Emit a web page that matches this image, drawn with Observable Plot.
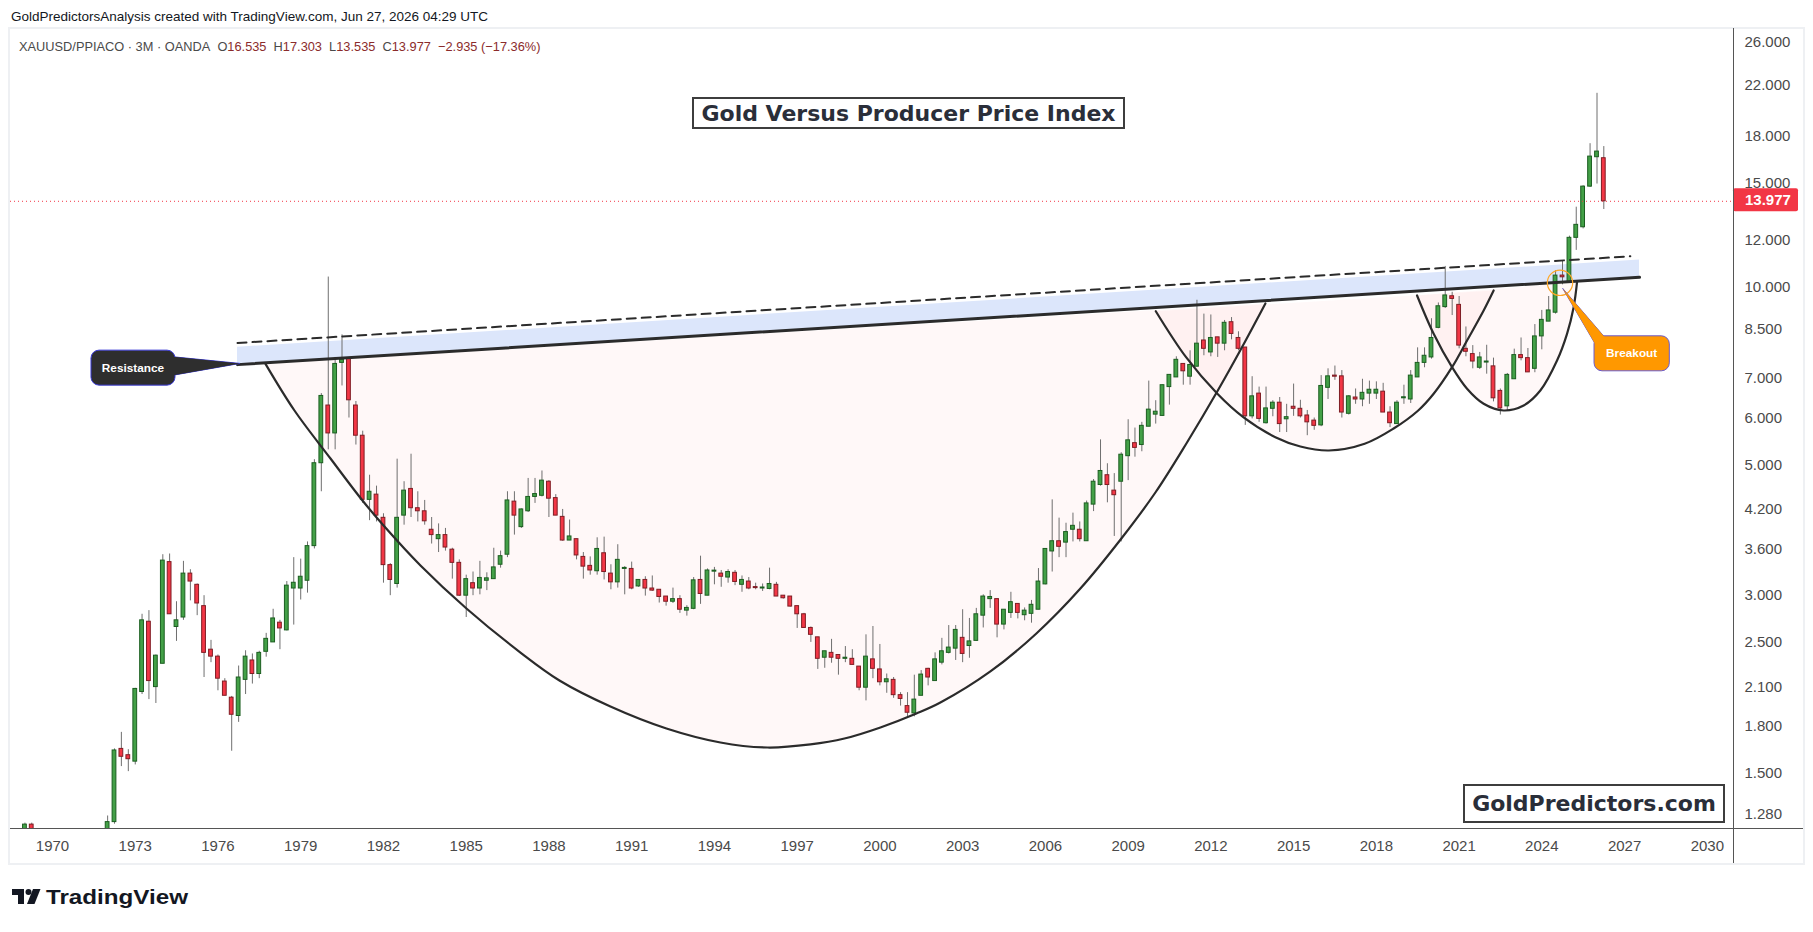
<!DOCTYPE html>
<html>
<head>
<meta charset="utf-8">
<script src="https://cdn.jsdelivr.net/npm/d3@7"></script>
<script src="https://cdn.jsdelivr.net/npm/@observablehq/plot@0.6"></script>
<style>
  html, body { margin: 0; padding: 0; background: #ffffff; overflow: hidden; }
  #page { position: relative; width: 1813px; height: 932px; overflow: hidden; font-family: "Liberation Sans", Arial, sans-serif; }
  .abs { position: absolute; }
  #frame { left: 8px; top: 27px; width: 1797px; height: 838px; border: 2px solid #eef0f3; box-sizing: border-box; }
  #chart { left: 0; top: 28px; }
  #header { left: 11px; top: 8.5px; font-size: 13.5px; color: #131722; white-space: nowrap; }
  #legend { left: 19px; top: 39px; font-size: 12.8px; color: #4a4a4a; white-space: nowrap; }
  #legend .v { color: #8b2b2b; }
  #vsep { left: 1733px; top: 28px; width: 1px; height: 835px; background: #555; }
  #hsep { left: 10px; top: 828px; width: 1793px; height: 1px; background: #555; }
  .box { box-sizing: border-box; border: 2px solid #3d3d3d; background: #fff; font-family: "DejaVu Sans", sans-serif; font-weight: bold; font-size: 22px; color: #2a2e39; display: flex; align-items: center; justify-content: center; white-space: nowrap; }
  #title { left: 692px; top: 97px; width: 433px; height: 32px; }
  #brand { left: 1463px; top: 784px; width: 262px; height: 39px; }
  #footer { left: 12px; top: 887px; }
</style>
</head>
<body>
<div id="page">
  <div id="frame" class="abs"></div>
  <div id="chart" class="abs"></div>
  <div id="vsep" class="abs"></div>
  <div id="hsep" class="abs"></div>
  <div id="header" class="abs">GoldPredictorsAnalysis created with TradingView.com, Jun 27, 2026 04:29 UTC</div>
  <div id="legend" class="abs">XAUUSD/PPIACO · 3M · OANDA&nbsp; O<span class="v">16.535</span>&nbsp; H<span class="v">17.303</span>&nbsp; L<span class="v">13.535</span>&nbsp; C<span class="v">13.977</span>&nbsp; <span class="v">−2.935 (−17.36%)</span></div>
  <div id="title" class="abs box">Gold Versus Producer Price Index</div>
  <div id="brand" class="abs box">GoldPredictors.com</div>
  <svg id="footer" class="abs" width="200" height="26">
    <path d="M0 2H12V17H6V8H0Z" fill="#131722"/>
    <circle cx="16.5" cy="5" r="3" fill="#131722"/>
    <path d="M21 2H28.5L22.5 17H15Z" fill="#131722"/>
    <text x="34" y="17" font-family="Liberation Sans, Arial, sans-serif" font-weight="bold" font-size="20" textLength="142" lengthAdjust="spacingAndGlyphs" fill="#131722">TradingView</text>
  </svg>
</div>
<script>
// ---------- DATA (quarterly candles, XAUUSD / PPIACO) ----------
// each row: [open, high, low, close]; rows run quarter by quarter from the block's first year
const q1969 = [
  [1.17,1.235,1.15,1.228],[1.228,1.235,1.14,1.16],[1.16,1.18,1.08,1.10],[1.10,1.12,1.00,1.02],
  [1.02,1.05,0.98,1.03],[1.03,1.06,1.00,1.02],[1.02,1.07,1.00,1.05],[1.05,1.07,1.00,1.04],
  [1.04,1.10,1.02,1.08],[1.08,1.14,1.06,1.12],[1.12,1.18,1.10,1.15],[1.15,1.19,1.12,1.17],
  [1.17,1.27,1.16,1.24],[1.24,1.65,1.23,1.64],[1.65,1.76,1.54,1.60],[1.61,1.645,1.51,1.585],
  [1.57,2.09,1.55,2.085],[2.06,2.79,2.04,2.725],[2.71,2.83,2.00,2.15],[2.10,2.38,1.97,2.374],
  [2.30,3.52,2.30,3.44],[3.42,3.53,2.79,2.79],[2.655,2.93,2.51,2.725],[2.755,3.43,2.725,3.27],
  [3.27,3.32,2.94,3.17],[3.13,3.14,2.775,2.91],[2.88,3.00,2.18,2.40],[2.43,2.52,2.31,2.365],
  [2.365,2.38,2.07,2.17],[2.146,2.17,2.03,2.03],[2.015,2.025,1.635,1.885],[1.876,2.28,1.83,2.18],
  [2.16,2.42,2.04,2.365],[2.33,2.39,2.125,2.21],[2.21,2.415,2.17,2.40],[2.41,2.59,2.36,2.535],
  [2.50,2.845,2.50,2.745],[2.70,2.725,2.43,2.64],[2.62,3.17,2.615,3.12],[3.085,3.48,2.675,3.155],
  [3.085,3.46,2.95,3.23],[3.18,3.70,3.03,3.64],[3.64,5.10,3.60,5.03],[5.03,6.60,4.50,6.54]
];
const q1980 = [
  [6.30,10.40,5.30,5.65],[5.65,7.60,5.30,7.41],[7.44,8.30,6.80,7.53],[7.56,7.60,6.00,6.43],
  [6.30,6.40,5.40,5.60],[5.60,5.70,4.30,4.36],[4.36,4.80,4.02,4.50],[4.45,4.60,4.00,4.10],
  [4.065,4.13,3.15,3.38],[3.38,3.40,3.00,3.19],[3.14,5.11,3.09,4.065],[4.10,4.68,3.95,4.52],
  [4.55,5.21,4.07,4.22],[4.22,4.50,4.00,4.17],[4.17,4.35,3.95,4.01],[3.88,4.07,3.67,3.80],
  [3.74,3.97,3.55,3.80],[3.80,3.90,3.57,3.62],[3.59,3.61,3.20,3.41],[3.41,3.45,2.99,3.00],
  [3.00,3.25,2.755,3.20],[3.15,3.29,3.00,3.085],[3.085,3.43,3.01,3.215],[3.18,3.28,3.06,3.21],
  [3.20,3.61,3.20,3.35],[3.385,3.57,3.34,3.50],[3.52,4.50,3.48,4.35],[4.33,4.50,3.80,4.10],
  [3.92,4.21,3.90,4.20],[4.17,4.74,4.15,4.41],[4.41,4.74,4.30,4.46],[4.43,4.88,4.41,4.70],
  [4.68,4.70,4.07,4.38],[4.39,4.45,4.10,4.10],[4.08,4.20,3.71,3.72],[3.72,4.03,3.72,3.78],
  [3.74,3.74,3.45,3.51],[3.49,3.55,3.20,3.36],[3.37,3.49,3.25,3.31],[3.30,3.76,3.25,3.60]
];
const q1990 = [
  [3.54,3.77,3.19,3.29],[3.27,3.385,3.07,3.16],[3.16,3.66,3.09,3.45],[3.33,3.36,3.01,3.34],
  [3.33,3.42,3.07,3.085],[3.11,3.19,3.10,3.19],[3.19,3.23,2.995,3.085],[3.085,3.24,3.05,3.06],
  [3.07,3.07,2.915,2.985],[2.99,2.99,2.88,2.93],[2.93,3.09,2.91,2.96],[2.96,3.00,2.80,2.84],
  [2.83,2.885,2.77,2.86],[2.85,3.22,2.84,3.185],[3.19,3.50,2.90,3.02],[3.00,3.33,3.00,3.31],
  [3.295,3.35,3.13,3.305],[3.27,3.31,3.10,3.23],[3.22,3.32,3.15,3.29],[3.28,3.31,3.12,3.165],
  [3.13,3.24,3.04,3.19],[3.17,3.22,3.07,3.085],[3.10,3.15,3.07,3.09],[3.085,3.14,3.05,3.09],
  [3.08,3.34,3.07,3.14],[3.13,3.16,2.99,2.99],[3.00,3.00,2.96,2.97],[2.99,2.99,2.87,2.875],
  [2.88,2.88,2.64,2.79],[2.79,2.80,2.645,2.645],[2.645,2.655,2.50,2.575],[2.55,2.55,2.25,2.345],
  [2.355,2.415,2.26,2.415],[2.40,2.53,2.305,2.355],[2.38,2.38,2.20,2.345],[2.345,2.46,2.31,2.355],
  [2.345,2.43,2.29,2.29],[2.275,2.275,2.07,2.095],[2.095,2.575,1.99,2.365],[2.34,2.66,2.17,2.255]
];
const q2000 = [
  [2.25,2.48,2.11,2.14],[2.14,2.21,2.05,2.165],[2.16,2.18,2.01,2.035],[2.035,2.055,1.95,2.005],
  [1.95,2.055,1.87,1.90],[1.895,2.20,1.87,2.00],[2.03,2.24,2.03,2.205],[2.255,2.26,2.11,2.18],
  [2.15,2.40,2.15,2.34],[2.31,2.54,2.29,2.415],[2.40,2.67,2.39,2.45],[2.44,2.67,2.33,2.625],
  [2.545,2.84,2.31,2.39],[2.465,2.745,2.35,2.51],[2.515,2.855,2.51,2.79],[2.775,3.01,2.645,2.99],
  [2.96,3.06,2.855,2.985],[2.96,2.96,2.545,2.68],[2.68,2.84,2.625,2.84],[2.805,3.04,2.745,2.925],
  [2.905,2.905,2.74,2.805],[2.78,2.86,2.72,2.83],[2.795,2.945,2.695,2.895],[2.84,3.335,2.84,3.17],
  [3.135,3.60,3.13,3.60],[3.565,4.36,3.29,3.71],[3.71,4.06,3.48,3.63],[3.69,3.98,3.48,3.845],
  [3.88,4.14,3.70,3.94],[3.88,4.00,3.70,3.74],[3.71,4.34,3.71,4.30],[4.28,4.72,4.165,4.68],
  [4.62,5.51,4.60,4.88],[4.80,5.02,4.31,4.62],[4.52,4.83,3.78,4.44],[4.68,5.24,3.70,5.20],
  [5.17,5.96,4.70,5.50],[5.44,5.77,5.15,5.34],[5.40,5.90,5.26,5.82],[5.80,6.93,5.80,6.20]
];
const q2010 = [
  [6.08,6.42,5.86,6.15],[6.05,6.82,6.05,6.82],[6.77,7.10,6.31,7.10],[7.03,7.62,7.03,7.53],
  [7.41,7.42,6.82,7.20],[7.05,7.80,6.82,7.38],[7.33,9.50,7.33,8.02],[8.12,9.00,7.65,7.86],
  [7.75,8.97,7.62,8.20],[8.22,8.22,7.60,8.02],[8.02,8.78,7.80,8.70],[8.72,8.88,8.14,8.33],
  [8.20,8.40,7.80,7.86],[7.90,7.90,5.83,6.04],[6.04,7.05,5.98,6.53],[6.60,6.77,5.90,5.98],
  [5.88,6.77,5.86,6.23],[6.22,6.42,6.03,6.37],[6.37,6.50,5.67,5.86],[5.97,6.33,5.67,6.02],
  [6.27,6.85,6.04,6.22],[6.22,6.43,6.00,6.04],[6.06,6.18,5.60,5.90],[5.94,6.00,5.72,5.82],
  [5.83,7.08,5.80,6.80],[6.75,7.27,6.45,7.06],[7.08,7.35,6.95,7.05],[7.06,7.22,6.00,6.13],
  [6.10,6.55,6.07,6.53],[6.50,6.72,6.33,6.45],[6.45,6.98,6.27,6.62],[6.60,6.93,6.33,6.70],
  [6.60,6.91,6.45,6.70],[6.65,6.87,6.13,6.13],[6.13,6.27,5.78,5.88],[5.86,6.42,5.86,6.37],
  [6.48,6.82,6.33,6.50],[6.45,7.22,6.35,7.08],[7.03,7.89,7.03,7.44],[7.44,7.89,7.30,7.65]
];
const q2020 = [
  [7.60,8.84,7.55,8.20],[8.53,9.40,8.50,9.28],[9.25,10.84,9.20,9.68],[9.65,9.80,8.95,9.55],
  [9.33,9.64,7.86,7.96],[7.86,8.56,7.62,7.77],[7.70,7.96,7.27,7.48],[7.30,7.75,7.25,7.60],
  [7.45,7.97,7.12,7.47],[7.34,7.58,6.39,6.48],[6.67,6.72,6.07,6.23],[6.28,7.14,6.17,7.10],
  [6.98,7.85,6.98,7.67],[7.67,8.20,7.50,7.58],[7.58,7.87,7.17,7.17],[7.27,8.64,7.16,8.25],
  [8.25,9.13,7.83,8.80],[8.74,9.64,8.74,9.13],[9.05,10.66,9.00,10.46],[10.46,11.09,10.09,10.39],
  [10.19,12.20,10.15,12.12],[12.12,13.66,11.54,12.75],[12.63,14.85,12.55,14.80],[14.80,17.50,14.75,16.64],
  [16.60,21.30,14.95,16.97],[16.535,17.303,13.535,13.977]
];
const blockStarts = [1969, 1980, 1990, 2000, 2010, 2020];
const blocks = [q1969, q1980, q1990, q2000, q2010, q2020];

const lastClose = 13.977;
const yTicks = [26, 22, 18, 15, 12, 10, 8.5, 7, 6, 5, 4.2, 3.6, 3, 2.5, 2.1, 1.8, 1.5, 1.28];
const xTickYears = [1970,1973,1976,1979,1982,1985,1988,1991,1994,1997,2000,2003,2006,2009,2012,2015,2018,2021,2024,2027,2030];

// drawings (year fraction, price)
const resistance = [[1976.708, 7.39], [2027.542, 10.39]];
const dashedTop = [[1976.708, 8.04], [2027.21, 11.28]];
const bandRatio = 1.07;
const bigCup = [
  [1977.722,7.413],[1978.773,6.179],[1980.079,5.123],[1981.239,4.349],[1982.036,3.929],[1983.342,3.375],
  [1985.009,2.854],[1986.967,2.403],[1988.381,2.155],[1990.23,1.947],[1992.26,1.787],[1994.218,1.692],
  [1995.922,1.659],[1997.481,1.679],[1998.714,1.718],[2000.019,1.794],[2001.324,1.894],[2002.194,1.977],
  [2004.006,2.232],[2005.674,2.589],[2007.269,3.085],[2008.756,3.75],[2009.989,4.487],[2011.113,5.433],
  [2012.273,6.706],[2013.143,7.931],[2013.978,9.381]
];
const midCup = [
  [2010.003,9.102],[2011.101,7.607],[2012.236,6.595],[2013.175,6.02],[2014.339,5.567],[2015.245,5.369],
  [2016.282,5.286],[2017.576,5.426],[2018.613,5.753],[2019.519,6.179],[2020.078,6.595],[2020.745,7.316],
  [2021.289,8.119],[2021.891,9.128],[2022.253,9.869]
];
const smallCup = [
  [2019.476,9.678],[2020.078,8.334],[2020.745,7.316],[2021.289,6.725],[2021.891,6.342],[2022.616,6.179],
  [2023.341,6.301],[2023.946,6.68],[2024.552,7.509],[2024.914,8.334],[2025.154,9.247],[2025.277,10.193]
];
const breakoutRing = [2024.66, 10.17];
const resistanceTip = [1976.816, 7.41];
const breakoutTip = [2024.776, 9.93];

// ---------- helpers ----------
const yd = f => new Date(Date.UTC(1970, 0, 1) + (f - 1970) * 365.2425 * 864e5);
const candles = [];
blocks.forEach((rows, b) => rows.forEach(([o, h, l, c], i) => {
  const date = new Date(Date.UTC(blockStarts[b] + Math.floor(i / 4), (i % 4) * 3, 1));
  candles.push({date, o, h, l, c, up: c >= o});
}));
const UP_FILL = "#43a047", UP_LINE = "#1b5e20", DN_FILL = "#f23645", DN_LINE = "#7f1d24", WICK = "#6f6f6f";
const LINE = "#2b2b2b";

function bandRows() {
  return resistance.map(([f, v]) => ({x: yd(f), y1: v, y2: v * bandRatio}));
}

function callout({tip, box, base, label, fill, border, fontSize}) {
  return (index, scales) => {
    const tx = scales.x(yd(tip[0])), ty = scales.y(tip[1]);
    const g = d3.create("svg:g");
    const tail = `M${tx},${ty}L${tx + base[0][0]},${ty + base[0][1]}L${tx + base[1][0]},${ty + base[1][1]}Z`;
    g.append("path").attr("d", tail).attr("fill", fill).attr("stroke", border).attr("stroke-width", 1);
    g.append("rect").attr("x", tx + box[0]).attr("y", ty + box[1])
      .attr("width", box[2] - box[0]).attr("height", box[3] - box[1])
      .attr("rx", 8).attr("fill", fill).attr("stroke", border).attr("stroke-width", 1);
    g.append("path").attr("d", tail).attr("fill", fill);
    g.append("text").attr("x", tx + (box[0] + box[2]) / 2).attr("y", ty + (box[1] + box[3]) / 2)
      .attr("dy", "0.35em").attr("text-anchor", "middle").attr("fill", "#ffffff")
      .attr("font-family", "Liberation Sans, Arial, sans-serif").attr("font-weight", "bold")
      .attr("font-size", fontSize).text(label);
    return g.node();
  };
}

function priceTag(index, scales, values, dims) {
  const y = scales.y(lastClose);
  const x = dims.width - dims.marginRight;
  const g = d3.create("svg:g");
  g.append("rect").attr("x", x).attr("y", y - 12.5).attr("width", 65).attr("height", 23)
    .attr("rx", 2).attr("fill", "#f23645");
  g.append("text").attr("x", x + 12).attr("y", y - 1).attr("dy", "0.35em").attr("fill", "#ffffff")
    .attr("text-anchor", "start").attr("font-size", 15).attr("font-weight", "bold")
    .text(d3.format(".3f")(lastClose));
  return g.node();
}

const cupOpts = {x: d => yd(d[0]), y: d => d[1], curve: "catmull-rom"};

const chart = Plot.plot({
  width: 1813, height: 842,
  marginTop: 3, marginRight: 80, marginBottom: 42, marginLeft: 10,
  style: {background: "transparent", fontFamily: "Liberation Sans, Arial, sans-serif", overflow: "visible"},
  x: {type: "utc", domain: [yd(1968.477), yd(2030.95)], axis: null},
  y: {type: "log", domain: [1.2095, 27.11], axis: null},
  marks: [
    ...[bigCup, midCup, smallCup].map(pts => Plot.line(pts, {...cupOpts, fill: "#f23645", fillOpacity: 0.035, stroke: "none"})),
    Plot.areaY(bandRows(), {x: "x", y1: "y1", y2: "y2", fill: "#dce6fb"}),
    Plot.ruleX(candles, {x: "date", y1: "l", y2: "h", stroke: WICK, strokeWidth: 1, clip: true}),
    Plot.rect(candles, {
      x1: d => d3.utcDay.offset(d.date, -25), x2: d => d3.utcDay.offset(d.date, 25),
      y1: d => Math.min(d.o, d.c), y2: d => Math.max(d.o, d.c, Math.min(d.o, d.c) * 1.004),
      fill: d => d.up ? UP_FILL : DN_FILL, stroke: d => d.up ? UP_LINE : DN_LINE, strokeWidth: 1, clip: true
    }),
    ...[bigCup, midCup, smallCup].map(pts => Plot.line(pts, {...cupOpts, stroke: LINE, strokeWidth: 2.2})),
    Plot.line(resistance, {x: d => yd(d[0]), y: d => d[1], stroke: LINE, strokeWidth: 3}),
    Plot.line(dashedTop, {x: d => yd(d[0]), y: d => d[1], stroke: LINE, strokeWidth: 2, strokeDasharray: "9,6"}),
    Plot.ruleY([lastClose], {stroke: "#f23645", strokeWidth: 1, strokeDasharray: "1,3"}),
    Plot.dot([breakoutRing], {x: d => yd(d[0]), y: d => d[1], r: 12.7, fill: "none", stroke: "#ffa726", strokeWidth: 1.2}),
    callout({tip: resistanceTip, box: [-149, -13.3, -65, 21.7], base: [[-66.5, -6.6], [-66.5, 11.7]],
      label: "Resistance", fill: "#2e2e2e", border: "#3b3bd6", fontSize: 11.8}),
    callout({tip: breakoutTip, box: [31.3, 47.4, 106.6, 82.4], base: [[32.8, 56], [42, 48.9]],
      label: "Breakout", fill: "#ff9800", border: "#6a5acd", fontSize: 11.8}),
    priceTag,
    Plot.axisX({ticks: xTickYears.map(y => new Date(Date.UTC(y, 0, 1))), tickFormat: d3.utcFormat("%Y"),
      tickSize: 0, tickPadding: 12, fontSize: 15, label: null, color: "#4a4a4a"}),
    Plot.axisY({anchor: "right", ticks: yTicks, tickFormat: d3.format(".3f"),
      tickSize: 0, tickPadding: 11, fontSize: 15, label: null, color: "#4a4a4a"})
  ]
});
document.getElementById("chart").appendChild(chart);
</script>
</body>
</html>
